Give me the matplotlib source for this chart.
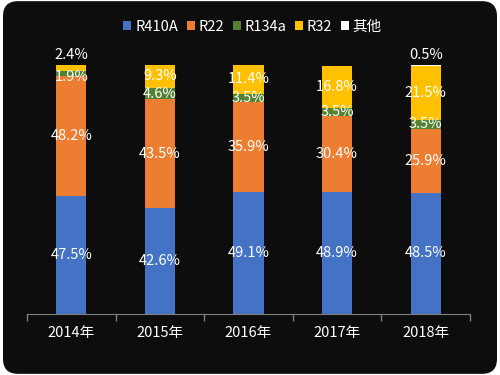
import numpy as np
import matplotlib
matplotlib.use('Agg')
import matplotlib.pyplot as plt
from matplotlib.patches import FancyBboxPatch

plt.rcParams['font.family'] = ['Noto Sans CJK SC', 'DejaVu Sans']

years = ['2014年', '2015年', '2016年', '2017年', '2018年']
series = ['R410A', 'R22', 'R134a', 'R32', '其他']
r410a = [47.5, 42.6, 49.1, 48.9, 48.5]
r22 = [48.2, 43.5, 35.9, 30.4, 25.9]
r134a = [1.9, 4.6, 3.5, 3.5, 3.5]
r32 = [2.4, 9.3, 11.4, 16.8, 21.5]
other = [0.0, 0.0, 0.0, 0.0, 0.5]
colors = ['#4472C4', '#ED7D31', '#548235', '#FFC000', '#FFFFFF']


def main():
    fig = plt.figure(figsize=(5, 3.75), dpi=100, facecolor='white')

    # dark rounded panel behind everything
    panel = FancyBboxPatch((0.03, 0.035), 0.94, 0.93,
                           boxstyle='round,pad=0.024,rounding_size=0.03',
                           transform=fig.transFigure, facecolor='#0d0d0d',
                           edgecolor='none', mutation_aspect=1.33, zorder=-10)
    fig.patches.append(panel)

    ax = fig.add_axes([0.054, 0.163, 0.886, 0.664])
    ax.set_facecolor('none')
    ax.set_zorder(1)

    x = np.arange(len(years))
    data = [r410a, r22, r134a, r32, other]
    bottom = np.zeros(len(years))
    handles = []
    for name, vals, col in zip(series, data, colors):
        vals = np.array(vals)
        b = ax.bar(x, vals, 0.34, bottom=bottom, color=col, label=name, zorder=2)
        handles.append(b)
        for i, v in enumerate(vals):
            if v <= 0:
                continue
            top = bottom[i] + v
            if name == '其他' or (name == 'R32' and v < 3):
                # tiny top slice: label above the bar
                ax.text(x[i], top + 1.2, f'{v:.1f}%', ha='center', va='bottom',
                        color='white', fontsize=10.5)
            elif v < 3:
                ax.text(x[i], bottom[i] - 0.5, f'{v:.1f}%', ha='center', va='center',
                        color='white', fontsize=10.5)
            else:
                ax.text(x[i], bottom[i] + v / 2, f'{v:.1f}%', ha='center', va='center',
                        color='white', fontsize=10.5)
        bottom = bottom + vals

    ax.set_xlim(-0.5, len(years) - 0.5)
    ax.set_ylim(0, 100)
    ax.set_yticks([])
    ax.set_xticks(x)
    ax.set_xticklabels(years, color='white', fontsize=10.5)
    ax.set_xticks(np.arange(-0.5, len(years), 1), minor=True)
    ax.tick_params(axis='x', which='major', length=0, pad=9)
    ax.tick_params(axis='x', which='minor', length=5, color='#7f7f7f', width=1)
    for s in ['top', 'right', 'left']:
        ax.spines[s].set_visible(False)
    ax.spines['bottom'].set_color('#7f7f7f')

    leg = fig.legend(handles=handles, labels=series, loc='center',
                     bbox_to_anchor=(0.505, 0.928), ncol=5, frameon=False,
                     handlelength=0.55, handleheight=0.55, handletextpad=0.25,
                     columnspacing=0.6, fontsize=10.5)
    for t in leg.get_texts():
        t.set_color('white')

    fig.savefig('out.png', dpi=100, facecolor='white')


if __name__ == '__main__':
    main()
